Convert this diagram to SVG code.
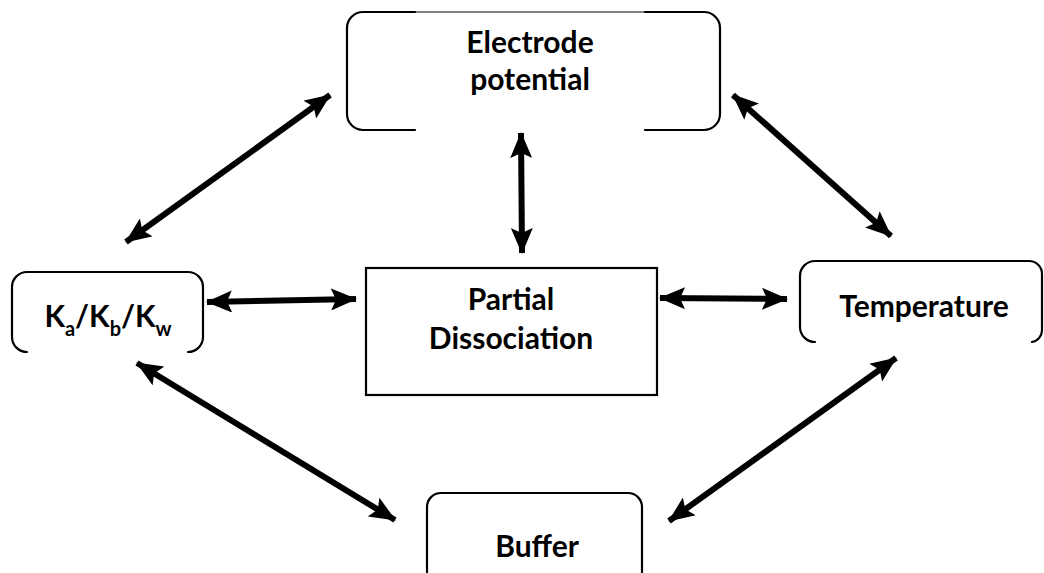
<svg xmlns="http://www.w3.org/2000/svg" width="1044" height="573" viewBox="0 0 1044 573">
  <style>
    .frame { fill: none; stroke: #000; stroke-width: 2.2; stroke-linecap: round; }
    .hair { fill: none; stroke: #000; stroke-width: 1; }
    .label { font-family: Lato, "Open Sans", "Liberation Sans", sans-serif; font-weight: bold; font-size: 30px; fill: #000; text-anchor: middle; }
    .sub { font-size: 20px; }
    .link { fill: none; stroke: #000; stroke-width: 6; marker-start: url(#head); marker-end: url(#head); }
  </style>
  <defs>
    <marker id="head" markerUnits="userSpaceOnUse" markerWidth="26" markerHeight="22" viewBox="0 0 26 22" refX="25" refY="11" orient="auto-start-reverse">
      <path d="M0,0 L26,11 L0,22 L5,11 Z" fill="#000"/>
    </marker>
  </defs>

  <!-- Connectors -->
  <g id="connectors">
    <line class="link" x1="126" y1="242" x2="330" y2="95"/>
    <line class="link" x1="733" y1="95" x2="891" y2="236"/>
    <line class="link" x1="521" y1="133" x2="522" y2="253"/>
    <line class="link" x1="207" y1="302" x2="356" y2="299"/>
    <line class="link" x1="660" y1="298" x2="787" y2="299"/>
    <line class="link" x1="137" y1="363" x2="395" y2="520"/>
    <line class="link" x1="669" y1="521" x2="896" y2="358"/>
  </g>

  <!-- Electrode potential -->
  <g id="electrode">
    <path class="frame" d="M415,130 H363 A16,16 0 0 1 347,114 V28 A16,16 0 0 1 363,12 H415"/>
    <path class="frame" d="M645,12 H704 A16,16 0 0 1 720,28 V114 A16,16 0 0 1 704,130 H645"/>
    <line class="hair" x1="415" y1="12" x2="645" y2="12"/>
    <text class="label" x="530" y="53">Electrode</text>
    <text class="label" x="530" y="90">potential</text>
  </g>

  <!-- Ka/Kb/Kw -->
  <g id="constants">
    <path class="frame" d="M27,352 A15,15 0 0 1 12,337 V287 A15,15 0 0 1 27,272 H188 A15,15 0 0 1 203,287 V337 A15,15 0 0 1 188,352"/>
    <text class="label" x="108" y="327">K<tspan class="sub" dy="9">a</tspan><tspan dy="-9">/K</tspan><tspan class="sub" dy="9">b</tspan><tspan dy="-9">/K</tspan><tspan class="sub" dy="9">w</tspan></text>
  </g>

  <!-- Partial Dissociation -->
  <g id="partial">
    <rect class="frame" x="366" y="268" width="291" height="127"/>
    <text class="label" x="511" y="310">Partial</text>
    <text class="label" x="511" y="349">Dissociation</text>
  </g>

  <!-- Temperature -->
  <g id="temperature">
    <path class="frame" d="M815,342 A15,15 0 0 1 800,327 V276 A15,15 0 0 1 815,261 H1029 A13,13 0 0 1 1042,274 V330 A12,12 0 0 1 1032,342"/>
    <text class="label" x="924" y="317">Temperature</text>
  </g>

  <!-- Buffer -->
  <g id="buffer">
    <path class="frame" d="M427,580 V507 A14,14 0 0 1 441,493 H628 A14,14 0 0 1 642,507 V580"/>
    <text class="label" x="537" y="557">Buffer</text>
  </g>
</svg>
